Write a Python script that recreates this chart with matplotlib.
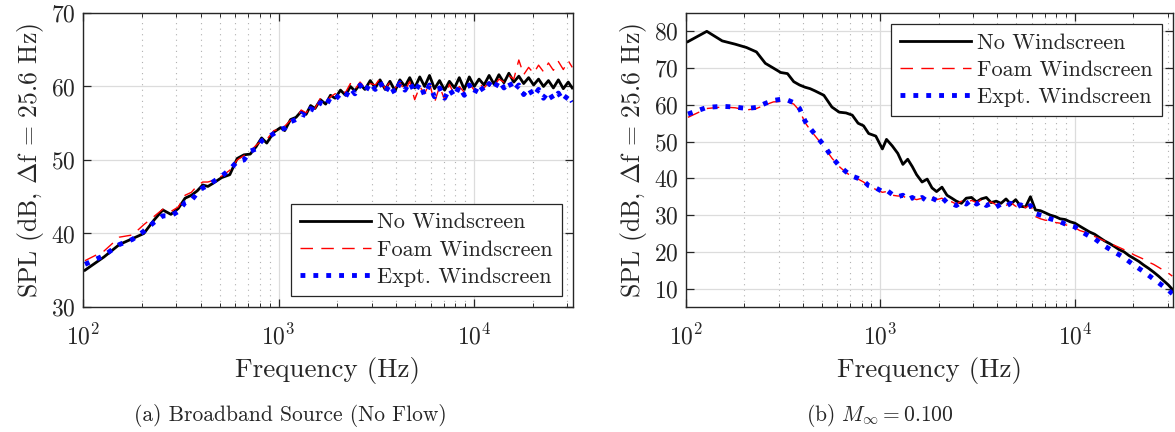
import numpy as np
import matplotlib.pyplot as plt

# frequency bins, delta f = 25.6 Hz
bins = [4, 5, 6, 7, 8, 9, 10, 11, 12, 13,
        14, 15, 16, 17, 18, 20, 22, 24, 26, 28,
        30, 32, 34, 37, 40, 42, 45, 48, 51, 54,
        57, 60, 64, 68, 72, 76, 81, 86, 91, 96,
        102, 108, 115, 122, 129, 137, 145, 154, 163, 173,
        183, 194, 206, 218, 231, 245, 260, 276, 292, 310,
        328, 348, 369, 391, 414, 439, 466, 494, 523, 555,
        588, 623, 661, 700, 742, 787, 834, 884, 937, 993,
        1053, 1116, 1183, 1240]
freq = 25.6 * np.array(bins)

labels = ['No Windscreen', 'Foam Windscreen', 'Expt. Windscreen']

# (a) broadband source, no flow
a_none = [35.0, 36.8, 38.5, 39.3, 40.0, 41.8, 43.2, 42.6, 43.4, 44.8,
          45.2, 45.8, 46.6, 46.4, 46.8, 47.6, 48.0, 50.2, 50.7, 50.8,
          51.8, 53.0, 52.3, 53.8, 54.4, 54.0, 55.5, 55.8, 56.6, 56.2,
          57.4, 57.0, 58.2, 57.6, 58.8, 58.4, 59.5, 58.8, 60.0, 59.4,
          60.3, 59.6, 60.8, 59.8, 60.9, 59.6, 60.7, 59.4, 60.9, 60.0,
          61.2, 59.8, 61.3, 60.0, 61.5, 59.7, 60.8, 59.5, 60.7, 59.8,
          61.2, 59.6, 61.3, 60.0, 61.0, 60.2, 61.5, 60.3, 61.6, 60.5,
          61.8, 60.6, 61.4, 60.4, 61.2, 60.2, 61.0, 60.0, 60.8, 59.8,
          60.9, 59.7, 60.6, 59.8]
a_foam = [36.3, 37.6, 39.5, 39.8, 41.2, 42.3, 43.3, 43.0, 43.6, 45.2,
          45.6, 46.5, 47.0, 47.0, 47.2, 47.8, 48.6, 50.0, 50.6, 51.2,
          52.0, 52.6, 52.8, 54.0, 54.2, 54.6, 55.4, 55.6, 56.8, 56.4,
          57.2, 57.0, 58.4, 57.8, 58.6, 59.0, 59.3, 59.2, 60.4, 59.6,
          60.6, 59.8, 60.4, 60.2, 61.1, 59.7, 60.6, 59.8, 60.5, 59.4,
          60.7, 58.2, 60.0, 59.0, 60.5, 57.8, 60.0, 58.2, 60.3, 58.8,
          60.0, 59.2, 60.4, 59.5, 60.4, 59.8, 60.6, 60.0, 61.0, 60.6,
          61.5, 61.0, 63.6, 61.6, 62.6, 61.8, 62.9, 62.0, 63.2, 62.2,
          63.4, 62.3, 63.5, 62.6]
a_expt = [35.8, 37.0, 38.5, 39.2, 40.3, 41.5, 42.4, 42.4, 43.0, 44.2,
          44.5, 45.5, 46.2, 46.5, 47.0, 47.8, 48.7, 49.8, 50.0, 51.2,
          51.5, 52.6, 53.0, 53.6, 54.2, 54.3, 55.2, 55.5, 56.3, 56.0,
          57.0, 56.7, 57.8, 57.3, 58.5, 58.2, 59.0, 58.6, 59.8, 59.0,
          60.2, 59.2, 60.5, 59.6, 60.6, 59.2, 60.3, 59.0, 60.5, 59.5,
          60.6, 59.2, 60.4, 58.8, 60.2, 58.6, 59.8, 58.4, 59.7, 58.6,
          60.0, 58.8, 60.2, 59.0, 60.3, 59.3, 60.4, 59.6, 60.8, 59.8,
          60.7, 59.4, 60.2, 58.9, 59.8, 58.6, 59.6, 58.4, 59.3, 58.2,
          59.1, 58.0, 58.9, 57.9]

# (b) M = 0.100
b_none = [77.2, 80.0, 77.4, 76.5, 75.6, 74.4, 71.3, 70.0, 68.8, 68.5,
          66.3, 65.4, 64.8, 64.4, 63.8, 62.6, 59.4, 58.0, 57.8, 57.2,
          55.0, 54.3, 52.2, 51.5, 48.0, 50.6, 48.8, 46.8, 43.8, 45.2,
          43.2, 41.0, 39.0, 39.8, 37.4, 36.4, 37.6, 35.4, 34.6, 33.8,
          33.2, 34.6, 34.8, 33.6, 34.4, 34.8, 33.4, 33.8, 33.2, 34.4,
          33.0, 34.2, 32.4, 32.2, 35.0, 31.4, 31.2, 30.6, 30.0, 29.6,
          29.0, 28.8, 28.2, 27.8, 27.0, 26.2, 25.4, 24.8, 23.9, 23.0,
          22.3, 21.5, 20.6, 20.0, 19.0, 18.2, 17.4, 16.4, 15.5, 14.5,
          13.4, 12.2, 11.0, 9.8]
b_foam = [56.6, 59.0, 59.4, 59.2, 58.6, 59.0, 60.0, 60.8, 60.9, 60.8,
          60.2, 58.4, 55.2, 53.2, 51.6, 48.6, 45.5, 43.2, 41.6, 40.4,
          39.8, 39.0, 37.8, 37.0, 36.2, 36.4, 35.4, 35.2, 35.2, 34.4,
          34.6, 34.2, 34.6, 34.0, 34.8, 34.2, 34.6, 33.6, 33.6, 33.0,
          33.8, 33.4, 34.0, 33.4, 34.2, 33.0, 33.6, 32.8, 33.4, 32.6,
          33.4, 32.4, 33.0, 32.0, 32.8, 29.6, 29.0, 28.6, 28.6, 28.0,
          27.8, 27.4, 27.0, 26.6, 25.8, 25.4, 24.6, 24.2, 23.6, 23.0,
          22.4, 21.8, 21.2, 20.6, 20.0, 19.2, 18.6, 18.0, 17.2, 16.6,
          15.8, 15.0, 14.2, 13.4]
b_expt = [57.5, 59.3, 59.6, 59.4, 59.0, 59.3, 60.4, 61.2, 61.5, 61.3,
          60.6, 59.0, 55.6, 53.6, 52.0, 49.0, 45.8, 43.4, 41.8, 40.6,
          40.0, 39.3, 38.0, 37.4, 36.4, 36.8, 35.6, 35.0, 35.4, 34.2,
          34.8, 34.0, 34.8, 33.8, 34.6, 34.0, 34.8, 33.4, 33.2, 32.6,
          33.6, 33.0, 34.2, 33.0, 33.8, 32.6, 33.2, 32.2, 33.0, 32.4,
          33.2, 32.0, 32.8, 31.8, 32.6, 30.4, 30.0, 29.6, 29.0, 28.6,
          28.2, 27.6, 27.2, 26.8, 25.8, 25.0, 24.2, 23.6, 22.6, 21.6,
          20.8, 20.0, 19.2, 18.4, 17.4, 16.4, 15.5, 14.6, 13.6, 12.6,
          11.6, 10.6, 9.6, 8.6]

plt.rcParams.update({'font.family': 'cmr10',
                     'mathtext.fontset': 'cm',
                     'axes.unicode_minus': False,
                     'axes.formatter.use_mathtext': True,
                     'text.color': '#262626',
                     'axes.labelcolor': '#262626',
                     'xtick.color': '#262626',
                     'ytick.color': '#262626'})

fig = plt.figure(figsize=(11.75, 4.32), dpi=100)
ax1 = fig.add_axes([0.0706, 0.2894, 0.417, 0.6806])
ax2 = fig.add_axes([0.5838, 0.2894, 0.4145, 0.6806])


def draw(ax, none, foam, expt, ylim, yticks, loc):
    ax.semilogx(freq, none, color='k', lw=2, label=labels[0])
    ax.semilogx(freq, foam, color='r', lw=1, dashes=(9, 6), label=labels[1])
    ax.semilogx(freq, expt, color='b', lw=3.5, ls=':', label=labels[2])
    ax.set_xlim(100, 32000)
    ax.set_ylim(*ylim)
    ax.set_yticks(yticks)
    ax.set_axisbelow(True)
    ax.grid(True, which='major', color='#dcdcdc', lw=0.9)
    ax.grid(True, which='minor', axis='x', color='#b0b0b0', ls=(0, (1, 4)), lw=0.8)
    ax.tick_params(which='both', direction='in', top=True, right=True, labelsize=17)
    ax.tick_params(axis='x', pad=12)
    ax.tick_params(axis='y', pad=5)
    ax.tick_params(which='major', length=6, width=0.9)
    ax.tick_params(which='minor', length=3, width=0.7)
    for s in ax.spines.values():
        s.set_color('#262626')
        s.set_linewidth(1.0)
    ax.set_xlabel('Frequency (Hz)', fontsize=19.5, labelpad=6)
    ax.set_ylabel(r'SPL (dB, $\Delta$f = 25.6 Hz)', fontsize=18.5, labelpad=4)
    leg = ax.legend(loc=loc, fontsize=16, handlelength=3.2, fancybox=False,
                    framealpha=1, edgecolor='#262626', borderaxespad=0.5,
                    labelspacing=0.35, handletextpad=0.3, borderpad=0.4)
    leg.get_frame().set_linewidth(0.9)


draw(ax1, a_none, a_foam, a_expt, (30, 70), [30, 40, 50, 60, 70], 'lower right')
draw(ax2, b_none, b_foam, b_expt, (5, 85), [10, 20, 30, 40, 50, 60, 70, 80], 'upper right')

fig.text(0.247, 0.038, '(a) Broadband Source (No Flow)', ha='center', va='center', fontsize=15.5)
fig.text(0.749, 0.038, r'(b) $M_\infty = 0.100$', ha='center', va='center', fontsize=15.5)

plt.savefig('out.png', dpi=100)
